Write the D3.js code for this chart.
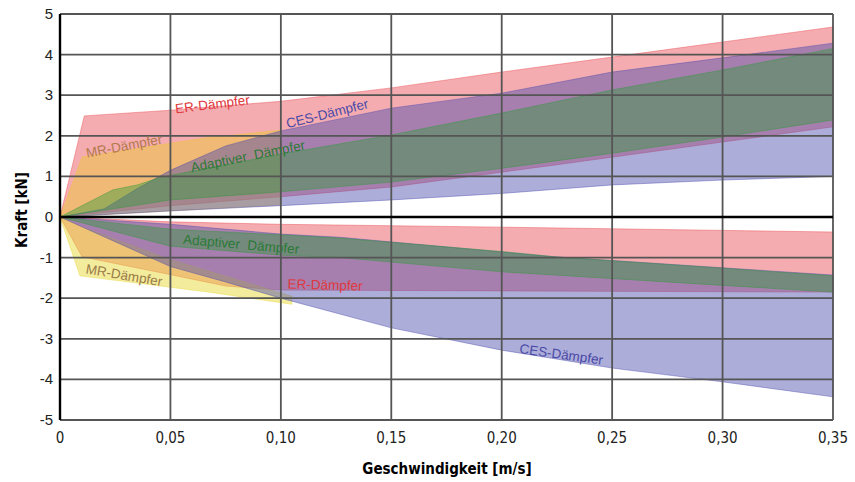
<!DOCTYPE html>
<html>
<head>
<meta charset="utf-8">
<script src="https://cdn.jsdelivr.net/npm/d3@7/dist/d3.min.js"></script>
<style>
body{margin:0;background:#fff}
svg{display:block}
text{font-family:"Liberation Sans Narrow","DejaVu Sans Condensed","Liberation Sans",sans-serif}
</style>
</head>
<body>
<svg></svg>
<script>
// Kennfelder: [Geschwindigkeit m/s, Kraft kN], Zug (+) und Druck (-)
var erZugMax   = [[0,0],[0.011,2.49],[0.05,2.63],[0.10,2.85],[0.15,3.18],[0.20,3.57],[0.25,3.94],[0.30,4.31],[0.35,4.68]],
	erZugMin   = [[0,0],[0.05,0.28],[0.10,0.5],[0.15,0.74],[0.224,1.28],[0.35,2.22]],
	erDruckMax = [[0,0],[0.05,-0.12],[0.10,-0.18],[0.20,-0.25],[0.35,-0.37]],
	erDruckMin = [[0,0],[0.01,-0.98],[0.05,-1.42],[0.075,-1.7],[0.10,-1.8],[0.20,-1.82],[0.35,-1.85]];

var mrZugMax   = [[0,0],[0.01,1.48],[0.066,1.95],[0.10,2.14]],
	mrZugMin   = [[0,0],[0.05,0.15],[0.10,0.3]],
	mrDruckMax = [[0,0],[0.01,-0.25],[0.05,-1.05],[0.105,-1.95]],
	mrDruckMin = [[0,0],[0.009,-1.45],[0.066,-1.84],[0.105,-2.15]];

var cesZugMax   = [[0,0],[0.02,0.2],[0.035,0.7],[0.05,1.15],[0.075,1.75],[0.10,2.12],[0.15,2.68],[0.20,3.05],[0.25,3.57],[0.30,3.92],[0.35,4.28]],
	cesZugMin   = [[0,0],[0.05,0.15],[0.10,0.28],[0.15,0.42],[0.20,0.58],[0.25,0.79],[0.30,0.91],[0.35,1.0]],
	cesDruckMax = [[0,0],[0.05,-0.18],[0.10,-0.42],[0.127,-0.5],[0.224,-0.98],[0.35,-1.43]],
	cesDruckMin = [[0,0],[0.05,-1.22],[0.075,-1.6],[0.10,-2.0],[0.15,-2.73],[0.20,-3.28],[0.25,-3.72],[0.30,-4.06],[0.35,-4.43]];

var adaZugMax   = [[0,0],[0.024,0.67],[0.035,0.79],[0.045,0.97],[0.10,1.55],[0.15,2.02],[0.20,2.56],[0.25,3.13],[0.30,3.62],[0.35,4.15]],
	adaZugMin   = [[0,0],[0.05,0.42],[0.10,0.62],[0.15,0.86],[0.20,1.2],[0.25,1.57],[0.30,1.97],[0.35,2.39]],
	adaDruckMax = [[0,0],[0.05,-0.3],[0.10,-0.44],[0.127,-0.52],[0.20,-0.85],[0.224,-0.98],[0.30,-1.26],[0.35,-1.45]],
	adaDruckMin = [[0,0],[0.05,-0.72],[0.10,-0.94],[0.127,-1.0],[0.20,-1.35],[0.224,-1.43],[0.35,-1.85]];

var xTicks = [0,0.05,0.10,0.15,0.20,0.25,0.30,0.35],
	yTicks = [-5,-4,-3,-2,-1,0,1,2,3,4,5];

// Beschriftungen im Diagramm: [Text, v, F, Winkel, Farbe]
var labels = [
	['ER-Dämpfer', 0.069, 2.78, -7, '#e0373c'],
	['MR-Dämpfer', 0.029, 1.75, -10.5, '#b27a4a'],
	['CES-Dämpfer', 0.121, 2.55, -14, '#4a4aa6'],
	['Adaptiver  Dämpfer', 0.085, 1.5, -11.3, '#2b7a36'],
	['Adaptiver  Dämpfer', 0.082, -0.67, 5, '#2b7a36'],
	['MR-Dämpfer', 0.029, -1.43, 9.8, '#9a7a48'],
	['ER-Dämpfer', 0.12, -1.67, 1.5, '#e0373c'],
	['CES-Dämpfer', 0.227, -3.38, 8, '#4a4aa6']
];

var w = 855, h = 482,
	svg = d3.select('svg').attr('width', w).attr('height', h),
	x = d3.scaleLinear().domain([0, 0.35]).range([60, 833]),
	y = d3.scaleLinear().domain([-5, 5]).range([420, 14]);

var line = d3.line().x(function(d){return x(d[0])}).y(function(d){return y(d[1])});

function band(oben, unten, farbe, deckung){
	// Polygon: obere Kurve hin, untere zurück
	var pts = oben.concat(unten.slice().reverse());
	svg.append('path')
		.attr('d', line(pts) + 'Z')
		.attr('fill', farbe)
		.attr('fill-opacity', deckung)
		.attr('stroke', farbe)
		.attr('stroke-opacity', 0.55)
		.attr('stroke-width', 0.8);
}

band(erZugMax, erZugMin, '#e8474f', 0.45);
band(erDruckMax, erDruckMin, '#e8474f', 0.45);
band(mrZugMax, mrZugMin, '#ecc53a', 0.5);
band(mrDruckMax, mrDruckMin, '#e8d93a', 0.5);
band(cesZugMax, cesZugMin, '#4a4aac', 0.45);
band(cesDruckMax, cesDruckMin, '#4a4aac', 0.45);
band(adaZugMax, adaZugMin, '#2e9a3a', 0.42);
band(adaDruckMax, adaDruckMin, '#2e9a3a', 0.42);

// Gitter
svg.selectAll('.vgrid').data(xTicks).enter().append('line')
	.attr('x1', function(d){return x(d)}).attr('x2', function(d){return x(d)})
	.attr('y1', y(5)).attr('y2', y(-5))
	.attr('stroke', '#555').attr('stroke-width', 1.8);
svg.selectAll('.hgrid').data(yTicks).enter().append('line')
	.attr('x1', x(0)).attr('x2', x(0.35))
	.attr('y1', function(d){return y(d)}).attr('y2', function(d){return y(d)})
	.attr('stroke', function(d){return d === 0 ? '#000' : '#555'})
	.attr('stroke-width', function(d){return d === 0 ? 2.6 : 1.8});
svg.append('line')
	.attr('x1', x(0)).attr('x2', x(0))
	.attr('y1', y(5)).attr('y2', y(-5))
	.attr('stroke', '#000').attr('stroke-width', 2.4);

// Achsenbeschriftung
svg.selectAll('.ytick').data(yTicks).enter().append('text')
	.attr('x', x(0) - 7).attr('y', function(d){return y(d) + 5})
	.attr('text-anchor', 'end').attr('font-size', 15).attr('fill', '#222')
	.style('font-family', '"Liberation Sans",Arial,sans-serif')
	.text(function(d){return d});
svg.selectAll('.xtick').data(xTicks).enter().append('text')
	.attr('x', function(d){return x(d)}).attr('y', 443)
	.attr('text-anchor', 'middle').attr('font-size', 15).attr('fill', '#222')
	.text(function(d){return d === 0 ? '0' : d3.format('.2f')(d).replace('.', ',')});

svg.append('text')
	.attr('x', 447).attr('y', 474)
	.attr('text-anchor', 'middle').attr('font-size', 15).attr('font-weight', 'bold')
	.text('Geschwindigkeit [m/s]');
svg.append('text')
	.attr('transform', 'translate(27,210) rotate(-90)')
	.attr('text-anchor', 'middle').attr('font-size', 15).attr('font-weight', 'bold')
	.text('Kraft [kN]');

svg.selectAll('.lbl').data(labels).enter().append('text')
	.attr('transform', function(d){return 'translate(' + x(d[1]) + ',' + y(d[2]) + ') rotate(' + d[3] + ')'})
	.attr('text-anchor', 'middle').attr('dy', '0.35em')
	.attr('font-size', 13.5).attr('fill', function(d){return d[4]})
	.style('font-family', '"Liberation Sans",Arial,sans-serif')
	.style('white-space', 'pre')
	.text(function(d){return d[0]});
</script>
</body>
</html>
